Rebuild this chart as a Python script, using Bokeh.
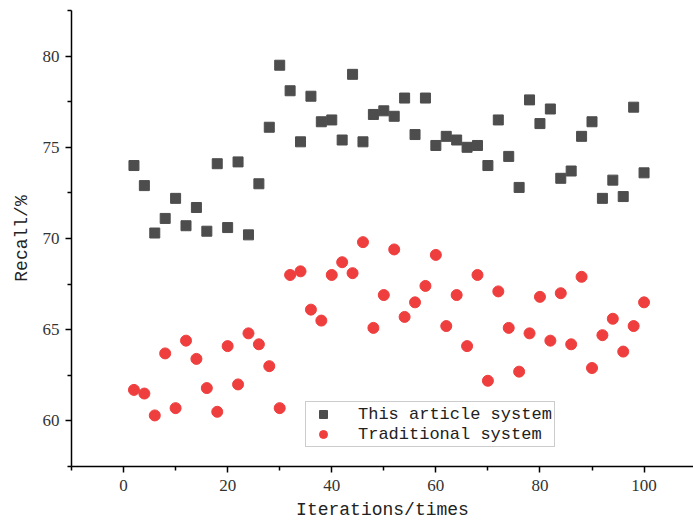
from bokeh.plotting import figure
from bokeh.models import Range1d, Legend, LegendItem, FixedTicker
from bokeh.embed import file_html
from bokeh.resources import INLINE

iterations = list(range(2, 101, 2))
this_article = [74.0, 72.9, 70.3, 71.1, 72.2, 70.7, 71.7, 70.4, 74.1, 70.6,
                74.2, 70.2, 73.0, 76.1, 79.5, 78.1, 75.3, 77.8, 76.4, 76.5,
                75.4, 79.0, 75.3, 76.8, 77.0, 76.7, 77.7, 75.7, 77.7, 75.1,
                75.6, 75.4, 75.0, 75.1, 74.0, 76.5, 74.5, 72.8, 77.6, 76.3,
                77.1, 73.3, 73.7, 75.6, 76.4, 72.2, 73.2, 72.3, 77.2, 73.6]
traditional = [61.7, 61.5, 60.3, 63.7, 60.7, 64.4, 63.4, 61.8, 60.5, 64.1,
               62.0, 64.8, 64.2, 63.0, 60.7, 68.0, 68.2, 66.1, 65.5, 68.0,
               68.7, 68.1, 69.8, 65.1, 66.9, 69.4, 65.7, 66.5, 67.4, 69.1,
               65.2, 66.9, 64.1, 68.0, 62.2, 67.1, 65.1, 62.7, 64.8, 66.8,
               64.4, 67.0, 64.2, 67.9, 62.9, 64.7, 65.6, 63.8, 65.2, 66.5]
x_ticks = [0, 20, 40, 60, 80, 100]
x_minor = [-10, 10, 30, 50, 70, 90, 110]
y_ticks = [60, 65, 70, 75, 80]
y_minor = [57.5, 62.5, 67.5, 72.5, 77.5, 82.5]

p = figure(width=693, height=532, output_backend="svg", toolbar_location=None,
           x_range=Range1d(-10, 109.5), y_range=Range1d(57.5, 82.5),
           min_border_left=71, min_border_right=0, min_border_top=10,
           min_border_bottom=66)
p.outline_line_color = None
p.xgrid.visible = False
p.ygrid.visible = False

r1 = p.scatter(iterations, this_article, marker="square", size=10,
               fill_color="#4d4d4d", line_color="#4d4d4d")
r2 = p.scatter(iterations, traditional, marker="circle", size=11,
               fill_color="#ef3e3e", line_color="#ef3e3e")

for ax in (p.xaxis[0], p.yaxis[0]):
    ax.axis_line_color = "black"
    ax.axis_line_width = 1.5
    ax.major_tick_line_color = "black"
    ax.major_tick_line_width = 1.5
    ax.minor_tick_line_color = "black"
    ax.minor_tick_line_width = 1.5
    ax.major_tick_in = 0
    ax.major_tick_out = 6
    ax.minor_tick_in = 0
    ax.minor_tick_out = 4
    ax.major_label_text_font = "Liberation Serif"
    ax.major_label_text_font_size = "17px"
    ax.major_label_text_color = "#333333"
    ax.axis_label_text_font = "Liberation Mono"
    ax.axis_label_text_font_size = "18px"
    ax.axis_label_text_font_style = "normal"
    ax.axis_label_text_color = "#222222"

p.xaxis[0].ticker = FixedTicker(ticks=x_ticks, minor_ticks=x_minor)
p.yaxis[0].ticker = FixedTicker(ticks=y_ticks, minor_ticks=y_minor)
p.xaxis.axis_label = "Iterations/times"
p.yaxis.axis_label = "Recall/%"
p.xaxis.major_label_standoff = 7
p.yaxis.major_label_standoff = 6
p.xaxis.axis_label_standoff = 6
p.yaxis.axis_label_standoff = 8

legend = Legend(items=[LegendItem(label="This article system", renderers=[r1]),
                       LegendItem(label="Traditional system", renderers=[r2])],
                location=(234, 19))
legend.label_text_font = "Liberation Mono"
legend.label_text_font_size = "17px"
legend.label_text_color = "#222222"
legend.border_line_color = "#999999"
legend.border_line_width = 1.5
legend.background_fill_color = "white"
legend.background_fill_alpha = 1.0
legend.padding = 2
legend.spacing = 0
legend.label_height = 20
legend.glyph_height = 20
legend.glyph_width = 30
legend.label_standoff = 20
legend.margin = 0
p.add_layout(legend, "center")

open("out.html", "w").write(file_html(p, INLINE))
